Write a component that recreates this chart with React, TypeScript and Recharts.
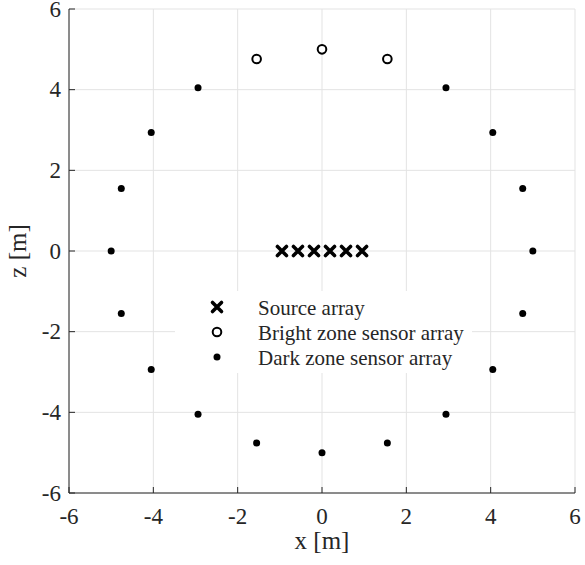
import React from "react";
import { ScatterChart, Scatter, XAxis, YAxis, CartesianGrid, Label } from "recharts";

const sourceX = [-0.95, -0.57, -0.19, 0.19, 0.57, 0.95];
const sourceZ = [0, 0, 0, 0, 0, 0];
const brightX = [-1.55, 0, 1.55];
const brightZ = [4.76, 5, 4.76];
const darkX = [5, 4.76, 4.05, 2.94, -2.94, -4.05, -4.76, -5, -4.76, -4.05, -2.94, -1.55, 0, 1.55, 2.94, 4.05, 4.76];
const darkZ = [0, 1.55, 2.94, 4.05, 4.05, 2.94, 1.55, 0, -1.55, -2.94, -4.05, -4.76, -5, -4.76, -4.05, -2.94, -1.55];
const ticks = [-6, -4, -2, 0, 2, 4, 6];
const legendLabels = ["Source array", "Bright zone sensor array", "Dark zone sensor array"];

const FONT = "'Liberation Serif', 'Times New Roman', serif";
const INK = "#262626";

const toPoints = (xs: number[], zs: number[]) => xs.map((x, i) => ({ x, z: zs[i] }));

function Cross({ cx, cy }: any) {
  return (
    <path
      d={`M${cx - 4.5},${cy - 4.5}L${cx + 4.5},${cy + 4.5}M${cx - 4.5},${cy + 4.5}L${cx + 4.5},${cy - 4.5}`}
      stroke="#000"
      strokeWidth={3.6}
      strokeLinecap="round"
      fill="none"
    />
  );
}

function Ring({ cx, cy }: any) {
  return <circle cx={cx} cy={cy} r={4.3} fill="#fff" stroke="#000" strokeWidth={2} />;
}

function Dot({ cx, cy }: any) {
  return <circle cx={cx} cy={cy} r={3.5} fill="#000" />;
}

// inward tick marks, like MATLAB's box axes
function BottomTick({ x, y, payload }: any) {
  return (
    <g>
      <line x1={x} y1={y} x2={x} y2={y - 6} stroke={INK} />
      <text x={x} y={y + 31} textAnchor="middle" fontSize={23} fontFamily={FONT} fill={INK}>
        {payload.value}
      </text>
    </g>
  );
}

function TopTick({ x, y }: any) {
  return <line x1={x} y1={y} x2={x} y2={y + 6} stroke={INK} />;
}

function LeftTick({ x, y, payload }: any) {
  return (
    <g>
      <line x1={x} y1={y} x2={x + 6} y2={y} stroke={INK} />
      <text x={x - 8} y={y + 7.5} textAnchor="end" fontSize={23} fontFamily={FONT} fill={INK}>
        {payload.value}
      </text>
    </g>
  );
}

function RightTick({ x, y }: any) {
  return <line x1={x} y1={y} x2={x - 6} y2={y} stroke={INK} />;
}

export default function App() {
  return (
    <div style={{ position: "absolute", left: 0, top: 0, width: 585, height: 565, background: "#fff" }}>
      <ScatterChart width={585} height={565} margin={{ top: 9, right: 10, bottom: 0, left: 0 }}>
        <CartesianGrid stroke="#e3e3e3" strokeWidth={1} />
        <XAxis
          type="number"
          dataKey="x"
          domain={[-6, 6]}
          ticks={ticks}
          height={72}
          tickSize={0}
          tickMargin={0}
          tick={<BottomTick />}
          axisLine={{ stroke: INK }}
          tickLine={false}
          allowDataOverflow
        >
          <Label
            content={({ viewBox }: any) => (
              <text
                x={viewBox.x + viewBox.width / 2}
                y={549}
                textAnchor="middle"
                fontSize={25}
                fontFamily={FONT}
                fill={INK}
              >
                x [m]
              </text>
            )}
          />
        </XAxis>
        <XAxis
          xAxisId="top"
          orientation="top"
          type="number"
          domain={[-6, 6]}
          ticks={ticks}
          height={0}
          tickSize={0}
          tickMargin={0}
          tick={<TopTick />}
          axisLine={{ stroke: INK }}
          tickLine={false}
          allowDataOverflow
        />
        <YAxis
          type="number"
          dataKey="z"
          domain={[-6, 6]}
          ticks={ticks}
          width={69}
          tickSize={0}
          tickMargin={0}
          tick={<LeftTick />}
          axisLine={{ stroke: INK }}
          tickLine={false}
          allowDataOverflow
        >
          <Label
            content={({ viewBox }: any) => (
              <text
                x={26}
                y={viewBox.y + viewBox.height / 2}
                textAnchor="middle"
                fontSize={25}
                fontFamily={FONT}
                fill={INK}
                transform={`rotate(-90 26 ${viewBox.y + viewBox.height / 2})`}
              >
                z [m]
              </text>
            )}
          />
        </YAxis>
        <YAxis
          yAxisId="right"
          orientation="right"
          type="number"
          domain={[-6, 6]}
          ticks={ticks}
          width={0}
          tickSize={0}
          tickMargin={0}
          tick={<RightTick />}
          axisLine={{ stroke: INK }}
          tickLine={false}
          allowDataOverflow
        />
        <Scatter data={toPoints(darkX, darkZ)} shape={<Dot />} isAnimationActive={false} />
        <Scatter data={toPoints(brightX, brightZ)} shape={<Ring />} isAnimationActive={false} />
        <Scatter data={toPoints(sourceX, sourceZ)} shape={<Cross />} isAnimationActive={false} />
      </ScatterChart>
      <svg width={297} height={82} style={{ position: "absolute", left: 175, top: 291 }}>
        <rect x={0} y={0} width={297} height={82} fill="#fff" />
        {legendLabels.map((label, i) => {
          const cy = 16 + i * 25;
          return (
            <g key={label}>
              {i === 0 && <Cross cx={42} cy={cy} />}
              {i === 1 && <Ring cx={42} cy={cy} />}
              {i === 2 && <Dot cx={42} cy={cy} />}
              <text x={83} y={cy + 8} fontSize={21} fontFamily={FONT} fill={INK}>
                {label}
              </text>
            </g>
          );
        })}
      </svg>
    </div>
  );
}
